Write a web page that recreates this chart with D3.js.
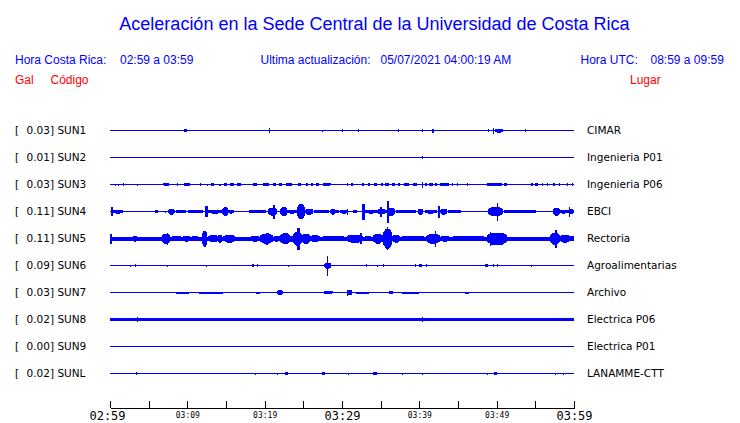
<!DOCTYPE html>
<html><head><meta charset="utf-8">
<script src="https://cdn.jsdelivr.net/npm/d3@7"></script>
<style>html,body{margin:0;padding:0;background:#fff;}svg{display:block;}</style>
</head><body>
<svg id="c" width="740" height="423"></svg>
<script>
// ---------- DATA ----------
const codes = ["SUN1","SUN2","SUN3","SUN4","SUN5","SUN6","SUN7","SUN8","SUN9","SUNL"];
const peakGal = [0.03,0.01,0.03,0.11,0.11,0.09,0.03,0.02,0.00,0.02];
const places = ["CIMAR","Ingenieria P01","Ingenieria P06","EBCI","Rectoria","Agroalimentarias","Archivo","Electrica P06","Electrica P01","LANAMME-CTT"];
// continuous background noise half-amplitude (Gal)
const baseNoise = [0,0,0,0.004,0.02,0,0,0.017,0,0];
// bursts: [start minute, end minute, half-amplitude Gal], minutes after 02:59
const burstsSUN1 = [[9.6,9.9,0.015],[20.6,20.7,0.025],[27.4,27.45,0.01],[30.0,30.1,0.015],[32.1,32.15,0.015],[37.3,37.35,0.015],[39.0,39.05,0.008],[40.3,40.4,0.015],[41.6,41.85,0.02],[48.9,48.95,0.015],[49.55,49.65,0.03],[49.8,50.8,0.02],[53.6,53.65,0.015]];
const burstsSUN2 = [[40.35,40.45,0.015]];
const burstsSUN3 = [[0.65,0.75,0.01],[1.0,1.05,0.01],[1.65,1.7,0.012],[3.45,3.5,0.01],[6.85,7.7,0.015],[8.6,8.7,0.012],[9.3,10.6,0.012],[11.6,11.7,0.012],[12.5,12.6,0.01],[13.0,13.5,0.012],[14.1,14.3,0.01],[14.8,15.1,0.012],[15.5,16.0,0.012],[16.3,17.1,0.012],[18.3,19.1,0.012],[19.6,20.8,0.012],[21.0,21.6,0.012],[21.8,22.4,0.012],[22.6,23.7,0.012],[24.1,24.9,0.012],[25.4,25.6,0.012],[26.0,26.3,0.012],[26.6,27.0,0.012],[27.3,28.8,0.012],[30.6,30.7,0.012],[31.2,31.4,0.012],[32.6,32.8,0.012],[33.3,33.6,0.012],[34.0,34.7,0.012],[35.0,35.3,0.012],[35.6,36.1,0.012],[36.5,36.8,0.012],[37.2,37.5,0.012],[37.8,38.9,0.012],[39.1,39.8,0.012],[40.35,40.45,0.03],[40.7,41.0,0.012],[41.3,41.8,0.012],[42.0,42.3,0.012],[42.6,43.9,0.015],[44.2,44.4,0.012],[44.9,45.0,0.012],[46.1,46.2,0.012],[48.6,50.8,0.015],[51.0,51.3,0.012],[54.5,54.7,0.012],[55.0,55.3,0.012],[55.8,56.0,0.012],[56.5,56.6,0.012],[57.3,57.5,0.012],[58.0,58.2,0.012],[59.1,59.2,0.012],[59.7,59.8,0.012]];
const burstsSUN4 = [[0.1,0.4,0.045],[0.4,1.7,0.02],[5.8,6.2,0.015],[7.1,7.2,0.01],[7.5,8.4,0.03],[8.4,10.0,0.015],[10.1,12.0,0.018],[12.3,12.7,0.055],[12.7,14.5,0.02],[14.5,15.3,0.045],[15.3,16.0,0.02],[17.8,20.3,0.015],[20.4,21.6,0.04],[21.1,21.3,0.07],[22.0,22.9,0.045],[22.9,24.2,0.02],[24.2,25.2,0.075],[25.2,26.3,0.03],[26.3,28.5,0.015],[28.5,29.1,0.03],[29.1,29.7,0.015],[29.7,30.8,0.02],[30.6,30.7,0.03],[31.4,31.9,0.015],[32.6,33.0,0.08],[33.0,34.5,0.02],[34.5,35.8,0.025],[34.9,35.2,0.05],[35.8,36.9,0.04],[35.8,36.1,0.11],[36.9,39.7,0.015],[39.8,40.5,0.03],[40.7,42.3,0.02],[42.4,42.7,0.06],[42.7,43.6,0.03],[43.6,45.5,0.015],[45.8,46.0,0.008],[46.7,46.8,0.008],[47.3,47.5,0.008],[48.9,50.8,0.045],[50.0,50.2,0.09],[50.8,55.2,0.015],[57.3,58.2,0.04],[58.2,59.2,0.02],[59.3,59.4,0.05],[59.2,60,0.025]];
const burstsSUN5 = [[0.0,0.3,0.05],[2.97,3.6,0.03],[6.7,7.8,0.05],[7.4,7.5,0.06],[7.8,9.4,0.025],[9.4,10.4,0.03],[10.4,11.6,0.025],[11.9,12.6,0.08],[12.6,14.2,0.035],[13.9,14.5,0.04],[14.6,16.2,0.04],[18.1,19.4,0.03],[19.4,21.1,0.05],[20.0,20.7,0.06],[21.1,22.0,0.03],[22.0,23.3,0.055],[23.3,23.7,0.03],[23.7,24.8,0.07],[24.2,24.6,0.11],[24.8,25.9,0.05],[25.9,27.2,0.035],[27.2,30.6,0.025],[30.6,32.7,0.04],[32.3,32.6,0.055],[32.7,34.0,0.025],[34.0,35.3,0.05],[35.3,36.5,0.1],[35.8,36.0,0.115],[36.5,37.5,0.04],[37.5,40.9,0.025],[40.9,42.7,0.05],[42.0,42.2,0.08],[42.7,43.97,0.03],[43.97,48.75,0.022],[48.75,51.3,0.06],[49.1,49.3,0.07],[56.9,58.2,0.06],[57.6,57.8,0.09],[58.2,59.5,0.04],[59.5,60,0.025]];
const burstsSUN6 = [[2.55,2.6,0.01],[3.2,3.3,0.015],[7.35,7.4,0.01],[12.4,12.45,0.01],[18.4,18.6,0.015],[19.0,19.2,0.015],[23.0,23.05,0.01],[24.3,24.35,0.005],[27.7,28.6,0.03],[28.1,28.2,0.1],[33.05,33.15,0.015],[34.5,34.55,0.01],[35.3,35.4,0.015],[36.05,36.1,0.005],[39.4,39.6,0.015],[39.9,40.3,0.015],[40.8,41.0,0.015],[43.15,43.2,0.005],[48.5,48.9,0.015],[49.5,49.6,0.015],[50.1,50.2,0.015],[54.4,54.45,0.01]];
const burstsSUN7 = [[6.5,6.9,0.007],[7.1,7.15,0.007],[8.0,10.7,0.01],[11.0,15.1,0.01],[15.9,16.4,0.007],[16.8,16.9,0.007],[17.7,18.1,0.007],[18.4,19.8,0.01],[20.4,21.1,0.007],[21.6,22.4,0.025],[23.3,23.9,0.007],[26.8,27.2,0.007],[27.4,29.1,0.012],[30.6,30.7,0.03],[30.8,31.3,0.025],[31.3,34.0,0.01],[34.7,35.3,0.007],[36.1,36.6,0.015],[37.2,40.5,0.01],[41.6,41.8,0.007],[43.0,43.2,0.007],[43.6,44.0,0.007],[44.5,45.0,0.007],[45.5,46.9,0.01],[48.7,48.9,0.007],[49.6,49.9,0.007],[50.2,50.4,0.007],[52.7,53.6,0.008],[54.0,54.3,0.007],[54.7,55.3,0.008],[55.6,56.3,0.008]];
const burstsSUN8 = [[3.45,3.5,0.025],[40.3,40.4,0.025]];
const burstsSUN9 = [];
const burstsSUNL = [[3.35,3.4,0.015],[17.8,17.85,0.007],[18.7,18.75,0.01],[20.7,20.75,0.007],[21.55,21.6,0.01],[22.6,23.0,0.015],[23.4,23.45,0.007],[25.7,25.75,0.007],[27.4,27.8,0.015],[30.75,30.8,0.01],[34.0,34.5,0.015],[37.2,37.25,0.007],[37.7,37.8,0.01],[40.3,40.35,0.01],[42.3,42.35,0.007],[48.8,48.85,0.01],[49.6,50.0,0.015],[57.5,57.55,0.01],[58.55,58.6,0.01]];
const bursts = [burstsSUN1,burstsSUN2,burstsSUN3,burstsSUN4,burstsSUN5,burstsSUN6,burstsSUN7,burstsSUN8,burstsSUN9,burstsSUNL];
const tickMinutes = [0,5,10,15,20,25,30,35,40,45,50,55,60];
const tickLabels = {0:"02:59",10:"03:09",20:"03:19",30:"03:29",40:"03:39",50:"03:49",60:"03:59"};
const bigTicks = [0,30,60];

// ---------- DRAW ----------
const svg = d3.select("#c");
const BLUE = "#0000ff", RED = "#ff0000";
const x = d3.scaleLinear().domain([0,60]).range([110,574]);
const row = d3.scalePoint().domain(codes).range([130,373]);
const amp = d3.scaleLinear().domain([0,0.11]).range([0,11]);

// header
svg.append("text").attr("x",374.5).attr("y",30).attr("text-anchor","middle")
  .attr("font-family","Liberation Sans, Arial, sans-serif").attr("font-size",18).attr("fill",BLUE)
  .text("Aceleración en la Sede Central de la Universidad de Costa Rica");
const hdr = [
  [15,64,"Hora Costa Rica:",BLUE],[120,64,"02:59 a 03:59",BLUE],
  [260.5,64,"Ultima actualización:",BLUE],[380.5,64,"05/07/2021 04:00:19 AM",BLUE],
  [580.5,64,"Hora UTC:",BLUE],[650.5,64,"08:59 a 09:59",BLUE],
  [15,84,"Gal",RED],[50.5,84,"Código",RED],[630,84,"Lugar",RED]
];
svg.selectAll("text.hdr").data(hdr).join("text").attr("class","hdr")
  .attr("x",d=>d[0]).attr("y",d=>d[1]).attr("fill",d=>d[3])
  .attr("font-family","Liberation Sans, Arial, sans-serif").attr("font-size",12)
  .text(d=>d[2]);

// burst outline: tapered spindle (wide bursts) or bar (narrow)
function burstPath(d, y0){
  const x0 = x(d[0]), x1 = Math.max(x(d[1]), x0+1);
  const a = Math.max(0.5, amp(d[2]));
  const w = x1 - x0;
  const yc = y0 + 0.5;
  if (w < 4) return `M${x0},${yc-a}H${x1}V${yc+a}H${x0}Z`;
  const e = Math.max(0.5, a*0.55), k = Math.min(w*0.3, 4);
  return `M${x0},${yc-e}L${x0+k},${yc-a}H${x1-k}L${x1},${yc-e}V${yc+e}L${x1-k},${yc+a}H${x0+k}L${x0},${yc+e}Z`;
}

// rows
codes.forEach((c,i)=>{
  const y0 = row(c);
  const g = svg.append("g").attr("shape-rendering","crispEdges");
  g.append("rect").attr("x",x(0)).attr("y",y0).attr("width",x(60)-x(0)).attr("height",1).attr("fill",BLUE);
  if (baseNoise[i]>0){
    const h = Math.max(0.5, amp(baseNoise[i]));
    g.append("rect").attr("x",x(0)).attr("y",y0+0.5-h).attr("width",x(60)-x(0)).attr("height",2*h).attr("fill",BLUE);
  }
  g.selectAll("path.b").data(bursts[i]).join("path").attr("class","b")
    .attr("d",d=>burstPath(d,y0)).attr("fill",BLUE);
  svg.append("text").attr("x",15).attr("y",y0+4.3).attr("font-family","DejaVu Sans, sans-serif")
    .attr("font-size",10.5).attr("fill","#000").text("[");
  svg.append("text").attr("x",26.6).attr("y",y0+4.3).attr("font-family","DejaVu Sans, sans-serif")
    .attr("font-size",10.5).attr("fill","#000").text(peakGal[i].toFixed(2)+"] "+c);
  svg.append("text").attr("x",587).attr("y",y0+4.3).attr("font-family","DejaVu Sans, sans-serif")
    .attr("font-size",10.5).attr("fill","#000").text(places[i]);
});

// time axis
const ax = d3.axisBottom(x).tickValues(tickMinutes).tickSizeInner(-7).tickSizeOuter(0)
  .tickFormat(d=>tickLabels[d]||"");
const ag = svg.append("g").attr("transform","translate(0,408)").call(ax);
ag.selectAll("path,line").attr("stroke","#000").attr("shape-rendering","crispEdges");
ag.selectAll("text").attr("fill","#000").attr("font-family","DejaVu Sans Mono, monospace")
  .attr("dy",null)
  .attr("x",d=>d===0?-3:0)
  .attr("y",d=>bigTicks.includes(d)?12:9.5)
  .attr("font-size",d=>bigTicks.includes(d)?12:8);
</script>
</body></html>
